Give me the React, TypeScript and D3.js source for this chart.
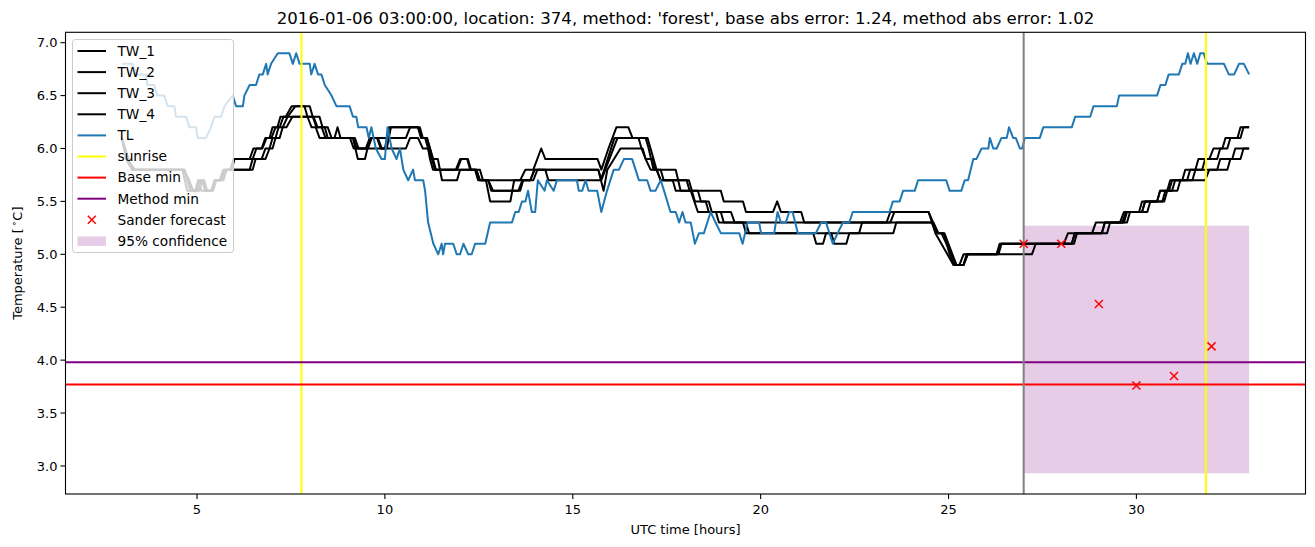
import React from 'react';
import * as d3 from 'd3';

type Pt = [number, number];

const TITLE = "2016-01-06 03:00:00, location: 374, method: 'forest', base abs error: 1.24, method abs error: 1.02";
const X_LABEL = 'UTC time [hours]';
const X_TICKS = [5, 10, 15, 20, 25, 30];
const Y_TICKS = [3.0, 3.5, 4.0, 4.5, 5.0, 5.5, 6.0, 6.5, 7.0];
const X_DOMAIN: Pt = [1.5, 34.5];
const Y_DOMAIN: Pt = [2.735, 7.098];

const TW_1: Pt[] = [[3.00,6.1],[3.11,5.9],[3.27,5.8],[4.61,5.8],[4.74,5.6],[4.95,5.6],[5.03,5.7],[5.12,5.6],[5.38,5.6],[5.46,5.7],[5.60,5.7],[5.70,5.8],[5.89,5.8],[5.97,5.9],[6.40,5.9],[6.50,6.0],[6.72,6.0],[6.82,6.1],[6.93,6.1],[7.01,6.2],[7.14,6.2],[7.22,6.3],[7.36,6.3],[7.52,6.4],[7.86,6.4],[7.94,6.3],[8.05,6.2],[8.16,6.2],[8.26,6.1],[8.66,6.1],[8.74,6.2],[8.82,6.1],[9.15,6.1],[9.28,5.9],[9.47,5.9],[9.60,6.1],[9.79,6.1],[9.89,6.0],[10.00,6.0],[10.11,6.2],[10.88,6.2],[10.96,6.1],[11.07,6.1],[11.15,6.0],[11.20,5.9],[11.28,5.8],[11.89,5.8],[12.00,5.9],[12.19,5.9],[12.27,5.8],[12.43,5.8],[12.53,5.7],[13.60,5.7],[13.74,5.8],[13.95,5.8],[14.16,6.0],[14.27,5.9],[15.66,5.9],[15.76,5.8],[15.95,6.0],[16.16,6.2],[16.48,6.2],[16.59,6.1],[16.75,6.1],[16.83,6.0],[16.94,5.9],[17.12,5.9],[17.20,5.8],[17.74,5.8],[17.87,5.6],[18.94,5.6],[19.02,5.5],[19.53,5.5],[19.61,5.4],[20.33,5.4],[20.44,5.5],[20.54,5.4],[21.08,5.4],[21.16,5.3],[23.35,5.3],[23.45,5.4],[24.47,5.4],[24.65,5.2],[24.81,5.1],[24.97,5.0],[25.13,4.9],[25.29,4.9],[25.40,5.0],[26.28,5.0],[26.39,5.1],[28.07,5.1],[28.18,5.2],[28.82,5.2],[28.92,5.3],[29.56,5.3],[29.67,5.4],[30.07,5.4],[30.15,5.5],[30.55,5.5],[30.63,5.6],[30.87,5.6],[30.95,5.7],[31.22,5.7],[31.30,5.8],[31.57,5.8],[31.65,5.9],[31.94,5.9],[32.05,6.0],[32.29,6.0],[32.37,6.1],[32.69,6.1],[32.77,6.2],[33.00,6.2]];

const TW_2: Pt[] = [[3.00,6.1],[3.09,6.0],[3.27,5.8],[4.66,5.8],[4.74,5.7],[4.82,5.6],[4.98,5.6],[5.06,5.7],[5.14,5.7],[5.22,5.6],[5.41,5.6],[5.49,5.7],[5.65,5.7],[5.73,5.8],[5.92,5.8],[6.00,5.9],[6.48,5.9],[6.58,6.0],[6.74,6.0],[6.85,6.1],[6.98,6.1],[7.09,6.2],[7.20,6.2],[7.30,6.3],[7.41,6.3],[7.62,6.4],[8.00,6.4],[8.08,6.3],[8.18,6.2],[8.40,6.2],[8.48,6.1],[9.20,6.1],[9.30,6.0],[9.49,6.0],[9.60,6.1],[9.81,6.1],[9.92,6.0],[10.05,6.0],[10.16,6.2],[10.93,6.2],[11.01,6.1],[11.12,6.1],[11.20,6.0],[11.28,5.9],[11.36,5.8],[11.92,5.8],[12.03,5.9],[12.21,5.9],[12.29,5.8],[12.53,5.8],[12.61,5.7],[12.75,5.7],[12.83,5.6],[13.55,5.6],[13.66,5.7],[13.87,5.7],[13.98,5.8],[15.68,5.8],[15.76,5.7],[16.19,6.1],[16.99,6.1],[17.07,6.0],[17.15,5.9],[17.23,5.8],[17.34,5.7],[18.09,5.7],[18.17,5.6],[18.25,5.5],[18.62,5.5],[18.70,5.4],[19.21,5.4],[19.31,5.3],[23.45,5.3],[23.56,5.4],[24.47,5.4],[24.71,5.2],[24.81,5.2],[25.21,4.9],[25.40,4.9],[25.51,5.0],[26.33,5.0],[26.41,5.1],[28.28,5.1],[28.36,5.2],[29.08,5.2],[29.16,5.3],[29.62,5.3],[29.72,5.4],[30.15,5.4],[30.23,5.5],[30.69,5.5],[30.77,5.6],[30.95,5.6],[31.03,5.7],[31.35,5.7],[31.43,5.8],[31.75,5.8],[31.83,5.9],[32.15,5.9],[32.23,6.0],[32.42,6.0],[32.50,6.1],[32.77,6.1],[32.85,6.2],[33.00,6.2]];

const TW_3: Pt[] = [[3.00,6.1],[3.14,5.9],[3.33,5.8],[4.66,5.8],[4.74,5.7],[4.79,5.7],[4.90,5.6],[5.06,5.6],[5.14,5.7],[5.22,5.6],[5.38,5.6],[5.49,5.7],[5.70,5.7],[5.78,5.8],[6.40,5.8],[6.48,5.9],[6.72,5.9],[6.82,6.0],[6.93,6.0],[7.01,6.1],[7.09,6.1],[7.17,6.2],[7.28,6.2],[7.41,6.3],[8.10,6.3],[8.21,6.2],[8.32,6.2],[8.42,6.1],[9.07,6.1],[9.17,6.0],[9.55,6.0],[9.65,6.1],[10.56,6.1],[10.67,6.2],[10.88,6.2],[10.99,6.1],[11.12,6.1],[11.20,6.0],[11.28,5.9],[11.41,5.9],[11.52,5.7],[11.92,5.7],[12.00,5.8],[12.40,5.8],[12.48,5.7],[12.69,5.7],[12.80,5.5],[13.34,5.5],[13.44,5.7],[13.87,5.7],[13.98,5.8],[14.27,5.8],[14.35,5.7],[15.74,5.7],[15.84,5.8],[16.11,6.1],[16.94,6.1],[17.02,6.0],[17.15,5.8],[17.34,5.8],[17.42,5.7],[17.66,5.7],[17.74,5.6],[18.14,5.6],[18.33,5.4],[18.94,5.4],[19.02,5.3],[19.53,5.3],[19.61,5.2],[21.40,5.2],[21.48,5.1],[21.66,5.1],[21.74,5.2],[21.88,5.2],[21.96,5.1],[22.28,5.1],[22.36,5.2],[22.62,5.2],[22.70,5.3],[24.55,5.3],[24.71,5.2],[24.87,5.2],[25.03,5.0],[25.16,4.9],[25.40,4.9],[25.48,5.0],[26.28,5.0],[26.36,5.1],[28.34,5.1],[28.42,5.2],[29.22,5.2],[29.30,5.3],[29.75,5.3],[29.83,5.4],[30.29,5.4],[30.37,5.5],[30.74,5.5],[30.82,5.6],[31.09,5.6],[31.17,5.7],[31.49,5.7],[31.57,5.8],[32.15,5.8],[32.23,5.9],[32.55,5.9],[32.63,6.0],[33.00,6.0]];

const TW_4: Pt[] = [[3.00,6.1],[3.14,5.9],[3.35,5.8],[4.66,5.8],[4.79,5.7],[4.87,5.6],[5.03,5.6],[5.11,5.7],[5.19,5.7],[5.27,5.6],[5.43,5.6],[5.51,5.7],[5.70,5.7],[5.78,5.8],[6.48,5.8],[6.56,5.9],[6.82,5.9],[6.93,6.0],[7.01,6.0],[7.09,6.1],[7.20,6.1],[7.28,6.2],[7.38,6.2],[7.54,6.3],[8.26,6.3],[8.34,6.2],[8.48,6.2],[8.58,6.1],[9.15,6.1],[9.25,6.0],[10.56,6.0],[10.67,6.1],[10.88,6.1],[11.01,6.0],[11.15,6.0],[11.25,5.9],[11.33,5.8],[12.43,5.8],[12.53,5.7],[12.75,5.7],[12.88,5.6],[13.60,5.6],[13.68,5.7],[13.95,5.7],[14.06,5.8],[15.68,5.8],[15.82,5.6],[15.92,5.8],[16.27,6.0],[16.86,6.0],[16.94,5.9],[17.07,5.8],[17.23,5.8],[17.34,5.7],[18.03,5.7],[18.11,5.6],[18.33,5.6],[18.41,5.5],[18.54,5.5],[18.62,5.4],[18.81,5.4],[18.89,5.3],[19.61,5.3],[19.69,5.2],[23.53,5.2],[23.61,5.3],[24.60,5.3],[24.73,5.2],[24.89,5.2],[25.21,4.9],[25.40,4.9],[25.51,5.0],[27.22,5.0],[27.32,5.1],[28.28,5.1],[28.36,5.2],[29.08,5.2],[29.16,5.3],[29.67,5.3],[29.75,5.4],[30.15,5.4],[30.23,5.5],[30.55,5.5],[30.63,5.6],[30.82,5.6],[30.90,5.7],[31.83,5.7],[31.94,5.8],[32.42,5.8],[32.50,5.9],[32.77,5.9],[32.85,6.0],[33.00,6.0]];

const TL: Pt[] = [[3.00,6.8],[3.28,6.8],[3.37,6.7],[3.64,6.7],[3.68,6.6],[3.86,6.6],[3.95,6.5],[4.13,6.5],[4.22,6.4],[4.40,6.4],[4.44,6.3],[4.71,6.3],[4.80,6.2],[4.97,6.2],[5.02,6.1],[5.24,6.1],[5.37,6.2],[5.46,6.3],[5.64,6.3],[5.73,6.4],[5.95,6.5],[6.04,6.4],[6.22,6.4],[6.26,6.5],[6.40,6.6],[6.57,6.6],[6.66,6.7],[6.75,6.7],[6.84,6.8],[6.88,6.7],[6.97,6.8],[7.15,6.9],[7.46,6.9],[7.55,6.8],[7.64,6.9],[7.73,6.8],[8.00,6.8],[8.04,6.7],[8.13,6.8],[8.22,6.7],[8.31,6.7],[8.40,6.6],[8.58,6.5],[8.71,6.4],[9.06,6.4],[9.15,6.3],[9.24,6.3],[9.29,6.2],[9.51,6.2],[9.57,6.1],[9.64,6.2],[9.76,6.0],[9.91,5.9],[10.00,5.9],[10.07,6.2],[10.18,6.0],[10.31,5.9],[10.40,6.0],[10.49,5.8],[10.62,5.7],[10.75,5.8],[10.80,5.7],[11.02,5.7],[11.07,5.6],[11.15,5.3],[11.29,5.1],[11.42,5.0],[11.51,5.1],[11.55,5.0],[11.60,5.1],[11.82,5.1],[11.91,5.0],[12.00,5.0],[12.09,5.1],[12.22,5.0],[12.31,5.0],[12.40,5.1],[12.67,5.1],[12.80,5.3],[13.38,5.3],[13.47,5.4],[13.56,5.4],[13.65,5.5],[13.74,5.5],[13.81,5.6],[13.91,5.4],[14.00,5.4],[14.07,5.7],[14.25,5.6],[14.31,5.7],[14.49,5.6],[14.58,5.7],[15.11,5.7],[15.16,5.6],[15.25,5.6],[15.34,5.7],[15.42,5.6],[15.65,5.6],[15.76,5.4],[15.91,5.6],[16.09,5.8],[16.23,5.8],[16.36,5.9],[16.58,5.9],[16.67,5.8],[16.76,5.7],[16.98,5.7],[17.07,5.6],[17.20,5.6],[17.34,5.7],[17.43,5.6],[17.60,5.4],[17.74,5.4],[17.83,5.3],[17.92,5.4],[18.00,5.3],[18.14,5.3],[18.25,5.1],[18.36,5.2],[18.49,5.2],[18.67,5.4],[18.80,5.3],[18.94,5.2],[19.43,5.2],[19.52,5.1],[19.65,5.3],[19.96,5.3],[20.01,5.2],[20.36,5.2],[20.45,5.4],[20.54,5.3],[20.67,5.3],[20.76,5.4],[20.85,5.4],[20.99,5.2],[21.47,5.2],[21.61,5.3],[21.74,5.3],[21.83,5.2],[21.92,5.1],[22.05,5.2],[22.19,5.3],[22.36,5.3],[22.45,5.4],[23.43,5.4],[23.52,5.5],[23.70,5.5],[23.79,5.6],[24.10,5.6],[24.19,5.7],[24.94,5.7],[25.03,5.6],[25.34,5.6],[25.43,5.7],[25.52,5.7],[25.66,5.9],[25.74,5.9],[25.88,6.0],[26.06,6.0],[26.10,6.1],[26.19,6.0],[26.28,6.0],[26.41,6.1],[26.55,6.1],[26.61,6.2],[26.72,6.1],[26.79,6.1],[26.90,6.0],[26.96,6.0],[27.03,6.1],[27.43,6.1],[27.52,6.2],[28.28,6.2],[28.37,6.3],[28.77,6.3],[28.86,6.4],[29.48,6.4],[29.54,6.5],[30.55,6.5],[30.64,6.6],[30.77,6.6],[30.86,6.7],[31.13,6.7],[31.22,6.8],[31.30,6.8],[31.37,6.9],[31.44,6.8],[31.53,6.9],[31.62,6.8],[31.70,6.9],[31.79,6.9],[31.88,6.8],[32.33,6.8],[32.46,6.7],[32.60,6.7],[32.73,6.8],[32.86,6.8],[33.00,6.7]];

const SUNRISE = [7.78, 31.85];
const FORECAST_START = 27.0;
const BASE_MIN = 3.77;
const METHOD_MIN = 3.98;
const FORECAST_T = [27, 28, 29, 30, 31, 32];
const FORECAST_V = [5.10, 5.10, 4.53, 3.76, 3.85, 4.13];
const CONF_T: Pt = [27, 33];
const CONF_V: Pt = [2.93, 5.27];

const LEGEND_LABELS = ['TW_1', 'TW_2', 'TW_3', 'TW_4', 'TL', 'sunrise', 'Base min', 'Method min', 'Sander forecast', '95% confidence'];

const W = 1315, H = 547;
const M = { left: 65.5, right: 9.5, top: 32.3, bottom: 53 };
const FONT = 'DejaVu Sans, sans-serif';
const BLUE = '#1f77b4';

export default function App() {
  const x = d3.scaleLinear().domain(X_DOMAIN).range([M.left, W - M.right]);
  const y = d3.scaleLinear().domain(Y_DOMAIN).range([H - M.bottom, M.top]);
  const line = d3.line<Pt>().x(d => x(d[0])).y(d => y(d[1]));
  const tws = [TW_1, TW_2, TW_3, TW_4];
  const x0 = M.left, x1 = W - M.right, y0 = M.top, y1 = H - M.bottom;
  const legendStyles: { kind: string; color: string }[] = [
    { kind: 'line', color: '#000' }, { kind: 'line', color: '#000' }, { kind: 'line', color: '#000' }, { kind: 'line', color: '#000' },
    { kind: 'line', color: BLUE }, { kind: 'line', color: '#ffff00' }, { kind: 'line', color: '#ff0000' }, { kind: 'line', color: '#800080' },
    { kind: 'x', color: '#ff0000' }, { kind: 'patch', color: '#800080' },
  ];
  const cross = (cx: number, cy: number, k: string | number, s = 4) => (
    <g key={k} stroke="#ff0000" strokeWidth={1.5}>
      <line x1={cx - s} y1={cy - s} x2={cx + s} y2={cy + s} />
      <line x1={cx - s} y1={cy + s} x2={cx + s} y2={cy - s} />
    </g>
  );
  return (
    <svg width={W} height={H} style={{ position: 'absolute', left: 0, top: 0, background: '#fff' }} fontFamily={FONT}>
      <defs>
        <clipPath id="plot"><rect x={x0} y={y0} width={x1 - x0} height={y1 - y0} /></clipPath>
      </defs>
      <rect x={0} y={0} width={W} height={H} fill="#fff" />
      <g clipPath="url(#plot)">
        <rect x={x(CONF_T[0])} y={y(CONF_V[1])} width={x(CONF_T[1]) - x(CONF_T[0])} height={y(CONF_V[0]) - y(CONF_V[1])} fill="#800080" fillOpacity={0.2} />
        {tws.map((s, i) => <path key={i} d={line(s) || ''} fill="none" stroke="#000" strokeWidth={2} strokeLinejoin="round" />)}
        <path d={line(TL) || ''} fill="none" stroke={BLUE} strokeWidth={2} strokeLinejoin="round" />
        {SUNRISE.map((t, i) => <line key={i} x1={x(t)} x2={x(t)} y1={y0} y2={y1} stroke="#ffff00" strokeWidth={2} />)}
        <line x1={x0} x2={x1} y1={y(BASE_MIN)} y2={y(BASE_MIN)} stroke="#ff0000" strokeWidth={2} />
        <line x1={x0} x2={x1} y1={y(METHOD_MIN)} y2={y(METHOD_MIN)} stroke="#800080" strokeWidth={2} />
        <line x1={x(FORECAST_START)} x2={x(FORECAST_START)} y1={y0} y2={y1} stroke="#808080" strokeWidth={2} />
        {FORECAST_T.map((t, i) => cross(x(t), y(FORECAST_V[i]), i))}
      </g>
      <rect x={x0} y={y0} width={x1 - x0} height={y1 - y0} fill="none" stroke="#000" strokeWidth={1.1} />
      {X_TICKS.map(t => (
        <g key={t}>
          <line x1={x(t)} x2={x(t)} y1={y1} y2={y1 + 5} stroke="#000" strokeWidth={1.1} />
          <text x={x(t)} y={y1 + 20} fontSize={13} textAnchor="middle" fill="#000">{t}</text>
        </g>
      ))}
      {Y_TICKS.map(v => (
        <g key={v}>
          <line x1={x0 - 5} x2={x0} y1={y(v)} y2={y(v)} stroke="#000" strokeWidth={1.1} />
          <text x={x0 - 8} y={y(v) + 4.6} fontSize={13} textAnchor="end" fill="#000">{v.toFixed(1)}</text>
        </g>
      ))}
      <text x={(x0 + x1) / 2} y={534} fontSize={13} textAnchor="middle" fill="#000">{X_LABEL}</text>
      <text transform={`translate(22,${(y0 + y1) / 2}) rotate(-90)`} fontSize={13} textAnchor="middle" fill="#000">
        Temperature [<tspan fontSize={9} dx={2} dy={-5}>∘</tspan><tspan dy={5}>C]</tspan>
      </text>
      <text x={(x0 + x1) / 2} y={24} fontSize={16.6} textAnchor="middle" fill="#000">{TITLE}</text>
      <g>
        <rect x={72.5} y={39.5} width={161} height={213} rx={3} fill="#fff" fillOpacity={0.8} stroke="#cccccc" strokeWidth={1} />
        {LEGEND_LABELS.map((lab, i) => {
          const cy = 51 + i * 21.1;
          const st = legendStyles[i];
          return (
            <g key={lab}>
              {st.kind === 'line' && <line x1={77.5} x2={106} y1={cy} y2={cy} stroke={st.color} strokeWidth={2} />}
              {st.kind === 'x' && cross(91.8, cy, 'lx')}
              {st.kind === 'patch' && <rect x={77.5} y={cy - 4.5} width={28.5} height={9.5} fill={st.color} fillOpacity={0.2} />}
              <text x={117.5} y={cy + 4.8} fontSize={13.7} fill="#000">{lab}</text>
            </g>
          );
        })}
      </g>
    </svg>
  );
}
